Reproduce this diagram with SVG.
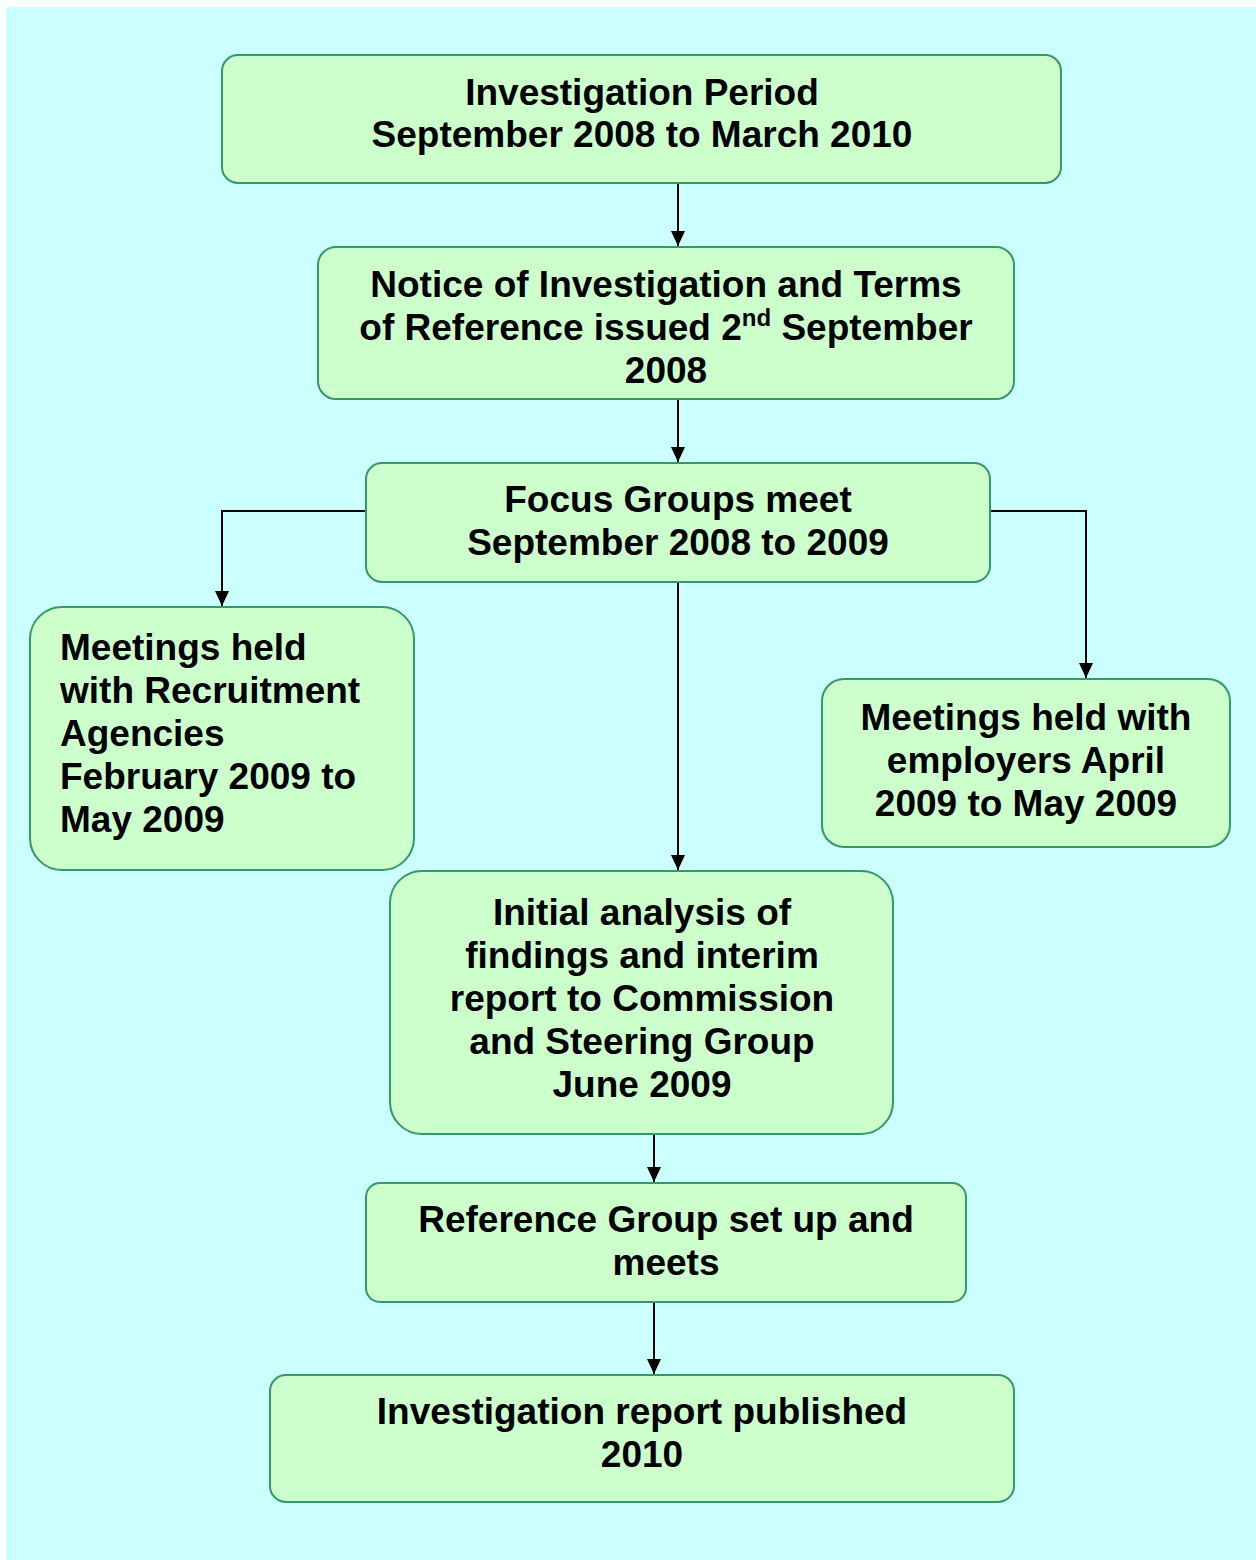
<svg xmlns="http://www.w3.org/2000/svg" width="1256" height="1560" viewBox="0 0 1256 1560">
<style>
.box{fill:#CCFFCC;stroke:#339966;stroke-width:2}
.t{font-family:"Liberation Sans",Arial,sans-serif;font-weight:bold;font-size:37px;fill:#000;text-anchor:middle}
.l{text-anchor:start}
.c{fill:none;stroke:#000;stroke-width:2}
</style>
<defs>
<marker id="ah" markerUnits="userSpaceOnUse" markerWidth="16" markerHeight="16" refX="15" refY="8" orient="auto">
<path d="M0,1 L15,8 L0,15 z" fill="#000"/>
</marker>
</defs>
<rect x="0" y="0" width="1256" height="1560" fill="#fff"/>
<rect x="6" y="7" width="1250" height="1553" fill="#CCFFFF"/>
<g id="connectors">
<path class="c" d="M678,184 V246" marker-end="url(#ah)"/>
<path class="c" d="M678,400 V462" marker-end="url(#ah)"/>
<path class="c" d="M366,511 H222 V606" marker-end="url(#ah)"/>
<path class="c" d="M990,511 H1086 V678" marker-end="url(#ah)"/>
<path class="c" d="M678,583 V870" marker-end="url(#ah)"/>
<path class="c" d="M654,1135 V1182" marker-end="url(#ah)"/>
<path class="c" d="M654,1303 V1374" marker-end="url(#ah)"/>
</g>
<g id="n1">
<rect class="box" x="222" y="55" width="839" height="128" rx="16"/>
<text class="t" x="642" y="105">Investigation Period</text>
<text class="t" x="642" y="147">September 2008 to March 2010</text>
</g>
<g id="n2">
<rect class="box" x="318" y="247" width="696" height="152" rx="18"/>
<text class="t" x="666" y="297">Notice of Investigation and Terms</text>
<text class="t" x="666" y="340">of Reference issued 2<tspan font-size="24" dy="-14">nd</tspan><tspan dy="14"> September</tspan></text>
<text class="t" x="666" y="383">2008</text>
</g>
<g id="n3">
<rect class="box" x="366" y="463" width="624" height="119" rx="16"/>
<text class="t" x="678" y="512">Focus Groups meet</text>
<text class="t" x="678" y="555">September 2008 to 2009</text>
</g>
<g id="n4">
<rect class="box" x="30" y="607" width="384" height="263" rx="32"/>
<text class="t l" x="60" y="660">Meetings held</text>
<text class="t l" x="60" y="703">with Recruitment</text>
<text class="t l" x="60" y="746">Agencies</text>
<text class="t l" x="60" y="789">February 2009 to</text>
<text class="t l" x="60" y="832">May 2009</text>
</g>
<g id="n5">
<rect class="box" x="822" y="679" width="408" height="168" rx="22"/>
<text class="t" x="1026" y="730">Meetings held with</text>
<text class="t" x="1026" y="773">employers April</text>
<text class="t" x="1026" y="816">2009 to May 2009</text>
</g>
<g id="n6">
<rect class="box" x="390" y="871" width="503" height="263" rx="32"/>
<text class="t" x="642" y="925">Initial analysis of</text>
<text class="t" x="642" y="968">findings and interim</text>
<text class="t" x="642" y="1011">report to Commission</text>
<text class="t" x="642" y="1054">and Steering Group</text>
<text class="t" x="642" y="1097">June 2009</text>
</g>
<g id="n7">
<rect class="box" x="366" y="1183" width="600" height="119" rx="14"/>
<text class="t" x="666" y="1232">Reference Group set up and</text>
<text class="t" x="666" y="1275">meets</text>
</g>
<g id="n8">
<rect class="box" x="270" y="1375" width="744" height="127" rx="16"/>
<text class="t" x="642" y="1424">Investigation report published</text>
<text class="t" x="642" y="1467">2010</text>
</g>
</svg>
